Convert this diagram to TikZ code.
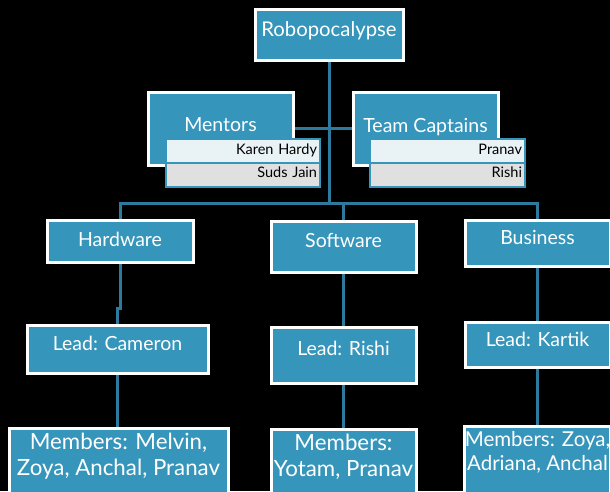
\documentclass[tikz,border=0pt]{standalone}
\usepackage{fontspec}
\setmainfont{Lato}
\usepackage{tikz}
\usetikzlibrary{
    shapes.multipart,
    backgrounds
}
\definecolor{boxteal}{HTML}{3695BB}
\definecolor{linkteal}{HTML}{2C7B9E}
\definecolor{listtop}{HTML}{E9F2F5}
\definecolor{listbottom}{HTML}{E0E0E0}
\tikzset{
    orgbox/.style={
        rectangle, draw=white, fill=boxteal,
        line width=3pt, text=white,
        align=center, inner sep=0pt,
        text depth=3pt,
        font=\fontsize{19.5}{23}\selectfont
    },
    raised/.style={
        text depth=#1
    },
    members box/.style={
        orgbox, anchor=north, inner ysep=5pt,
        text depth=44pt,
        font=\fontsize{22.3}{26}\selectfont
    },
    namelist/.style={
        rectangle split, rectangle split parts=2,
        rectangle split part fill={listtop, listbottom},
        draw=boxteal, line width=2pt,
        text width=148pt, align=right,
        inner xsep=3pt, inner ysep=3.3pt,
        font=\fontsize{14.5}{15}\selectfont
    },
    link/.style={
        draw=linkteal, line width=3pt
    },
}

\begin{document}
\begin{tikzpicture}[x=1pt, y=-1pt]
    \useasboundingbox (0,0) rectangle (610,491);
    \clip (0,0) rectangle (610,491);

    \node[orgbox, raised=10pt, minimum width=148pt, minimum height=51pt, font=\fontsize{20.3}{24}\selectfont] (robo) at (329,34.5) {Robopocalypse};

    \node[orgbox, raised=7pt, minimum width=145pt, minimum height=73pt] (mentors) at (220.5,128.5) {Mentors};
    \node[orgbox, raised=7pt, minimum width=145pt, minimum height=73pt] (captains) at (425.5,128.5) {Team Captains};
    \node[namelist] (mentorlist) at (243,163) {Karen Hardy\strut \nodepart{two} Suds Jain\strut};
    \node[namelist, text width=149pt] (captainlist) at (447.5,163) {Pranav\strut \nodepart{two} Rishi\strut};

    \node[orgbox, minimum width=146pt, minimum height=42pt] (hw) at (120,241) {Hardware};
    \node[orgbox, raised=13pt, minimum width=145pt, minimum height=51pt] (sw) at (343.5,246.5) {Software};
    \node[orgbox, raised=11pt, minimum width=145pt, minimum height=46pt] (biz) at (537.5,243) {Business};

    \node[orgbox, raised=11pt, minimum width=181pt, minimum height=48pt] (leadhw) at (117.5,349) {Lead: Cameron};
    \node[orgbox, raised=13pt, minimum width=145pt, minimum height=56pt] (leadsw) at (343.5,355) {Lead: Rishi};
    \node[orgbox, raised=11pt, minimum width=145pt, minimum height=45pt] (leadbiz) at (537.5,344.5) {Lead: Kartik};

    \node[members box, minimum width=219pt] (memhw) at (118.5,427) {Members: Melvin,\\Zoya, Anchal, Pranav};
    \node[members box, minimum width=145pt] (memsw) at (343.5,428) {Members:\\Yotam, Pranav};
    \node[members box, minimum width=145pt, font=\fontsize{20.5}{24}\selectfont] (membiz) at (537.5,425) {Members: Zoya,\\Adriana, Anchal};

    \coordinate (bus) at (0,203);

    % Connectors behind the boxes
    \begin{scope}[on background layer]
        \fill[black] (0,0) rectangle (610,491);
        \draw[link] (mentors.east) -- (captains.west);
        \draw[link] (robo.south) -- (robo.south |- bus) -| (hw.north);
        \draw[link] (robo.south |- bus) -| (sw.north);
        \draw[link] (robo.south |- bus) -| (biz.north);

        \draw[link] (hw.south) -- ++(0,45) -| (leadhw.north);
        \draw[link] (sw.south) -- (leadsw.north);
        \draw[link] (biz.south) -- (leadbiz.north);

        \draw[link] (leadhw.south) -- (leadhw.south |- memhw.north);
        \draw[link] (leadsw.south) -- (memsw.north);
        \draw[link] (leadbiz.south) -- (membiz.north);
    \end{scope}
\end{tikzpicture}
\end{document}
